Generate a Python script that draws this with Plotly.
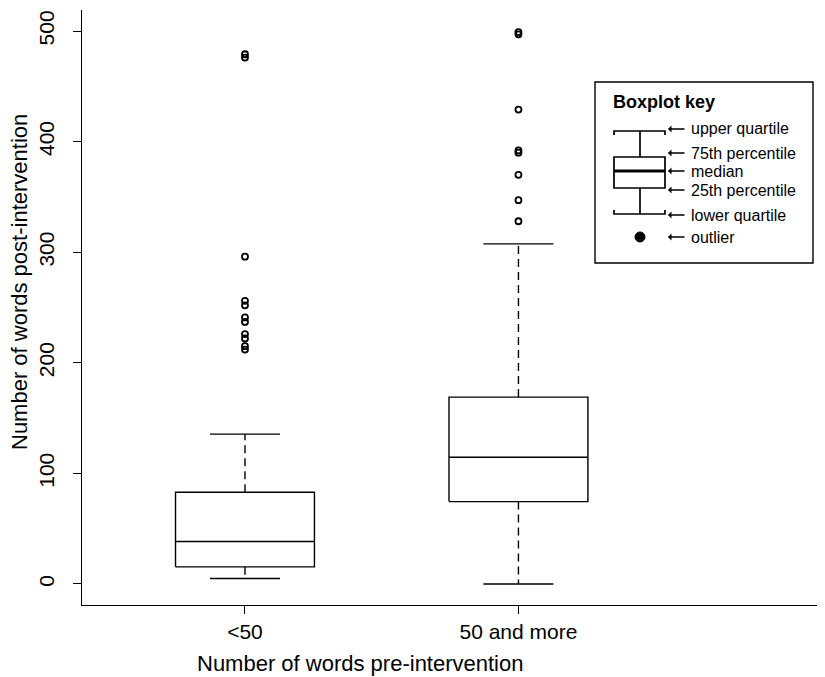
import plotly.graph_objects as go

# ---------------- data ----------------
categories = ["<50", "50 and more"]
q1 = [15.5, 74.5]
median = [38.5, 114.5]
q3 = [83.0, 169.0]
lower_whisker = [5.0, 0.0]
upper_whisker = [135.5, 307.5]
outliers_lt50 = [479, 476, 296, 256, 252, 241, 237, 226, 222, 215, 212]
outliers_50plus = [499, 497, 429, 392, 390, 370, 347, 328]
outliers = [outliers_lt50, outliers_50plus]

y_ticks = [0, 100, 200, 300, 400, 500]

x_title = "Number of words pre-intervention"
y_title = "Number of words post-intervention"
key_title = "Boxplot key"
key_labels = ["upper quartile", "75th percentile", "median",
              "25th percentile", "lower quartile", "outlier"]

FONT = "Liberation Sans, Arial, Helvetica, sans-serif"
BOX_HALF = 0.254
CAP_HALF = 0.128

fig = go.Figure()
line_style = dict(color="black", width=1.4)

for i, cat in enumerate(categories):
    c = i + 1
    fig.add_trace(go.Scatter(
        x=[c - BOX_HALF, c + BOX_HALF, c + BOX_HALF, c - BOX_HALF, c - BOX_HALF],
        y=[q1[i], q1[i], q3[i], q3[i], q1[i]],
        mode="lines", line=line_style, hoverinfo="skip", showlegend=False))
    fig.add_trace(go.Scatter(
        x=[c - BOX_HALF, c + BOX_HALF], y=[median[i], median[i]],
        mode="lines", line=dict(color="black", width=1.5), showlegend=False))
    fig.add_trace(go.Scatter(
        x=[c, c, None, c, c],
        y=[q3[i], upper_whisker[i], None, q1[i], lower_whisker[i]],
        mode="lines", line=dict(color="black", width=1.4, dash="8px,5px"),
        showlegend=False))
    fig.add_trace(go.Scatter(
        x=[c - CAP_HALF, c + CAP_HALF, None, c - CAP_HALF, c + CAP_HALF],
        y=[upper_whisker[i], upper_whisker[i], None, lower_whisker[i], lower_whisker[i]],
        mode="lines", line=line_style, showlegend=False))
    fig.add_trace(go.Scatter(
        x=[c] * len(outliers[i]), y=outliers[i], mode="markers",
        marker=dict(symbol="circle-open", size=6, color="black", line=dict(width=1.8)),
        showlegend=False))

# ---------------- layout ----------------
OFF = 8                      # page body margin
L, T, W, H = 74, 2, 743, 595  # plot area in figure px


def px(x):   # screenshot px -> paper
    return (x - OFF - L) / W


def py(y):
    return (T + H - (y - OFF)) / H


shapes = []
annotations = []

shapes.append(dict(type="rect", xref="paper", yref="paper",
                   x0=px(595), x1=px(813), y0=py(263), y1=py(82),
                   line=dict(color="black", width=1.4), fillcolor="white"))
kx0, kx1, kc = 614, 665, 640
ky_top, ky_q3, ky_med, ky_q1, ky_bot = 131, 157, 171, 188, 214
kline = dict(color="black", width=1.7)
shapes.append(dict(type="path", xref="paper", yref="paper",
                   path=f"M {px(kx0)} {py(ky_top+4)} L {px(kx0)} {py(ky_top)} L {px(kx1)} {py(ky_top)} L {px(kx1)} {py(ky_top+4)}",
                   line=kline))
shapes.append(dict(type="path", xref="paper", yref="paper",
                   path=f"M {px(kx0)} {py(ky_bot-4)} L {px(kx0)} {py(ky_bot)} L {px(kx1)} {py(ky_bot)} L {px(kx1)} {py(ky_bot-4)}",
                   line=kline))
shapes.append(dict(type="line", xref="paper", yref="paper",
                   x0=px(kc), x1=px(kc), y0=py(ky_top), y1=py(ky_q3), line=kline))
shapes.append(dict(type="line", xref="paper", yref="paper",
                   x0=px(kc), x1=px(kc), y0=py(ky_q1), y1=py(ky_bot), line=kline))
shapes.append(dict(type="rect", xref="paper", yref="paper",
                   x0=px(kx0), x1=px(kx1), y0=py(ky_q1), y1=py(ky_q3), line=kline))
shapes.append(dict(type="line", xref="paper", yref="paper",
                   x0=px(kx0), x1=px(kx1), y0=py(ky_med), y1=py(ky_med),
                   line=dict(color="black", width=3)))
shapes.append(dict(type="circle", xref="paper", yref="paper",
                   x0=px(kc - 5), x1=px(kc + 5), y0=py(237 + 5), y1=py(237 - 5),
                   fillcolor="black", line=dict(color="black", width=1)))

annotations.append(dict(xref="paper", yref="paper", x=px(611), y=py(102),
                        text=f"<b>{key_title}</b>", showarrow=False,
                        xanchor="left", yanchor="middle",
                        font=dict(family=FONT, size=18, color="black")))
key_y = [129, 153, 171, 190, 215, 237]
for txt, yy in zip(key_labels, key_y):
    # arrow pointing left
    annotations.append(dict(xref="paper", yref="paper", x=px(668), y=py(yy),
                            ax=18, ay=0, text="", showarrow=True,
                            arrowhead=1, arrowsize=0.9, arrowwidth=1.3,
                            arrowcolor="black", standoff=0, startstandoff=0))
    annotations.append(dict(xref="paper", yref="paper", x=px(689), y=py(yy),
                            text=txt, showarrow=False,
                            xanchor="left", yanchor="middle",
                            font=dict(family=FONT, size=16, color="black")))

# axis titles
annotations.append(dict(xref="paper", yref="paper", x=px(360), y=py(663),
                        text=x_title, showarrow=False, xanchor="center", yanchor="middle",
                        font=dict(family=FONT, size=22, color="black")))
annotations.append(dict(xref="paper", yref="paper", x=px(19), y=py(282),
                        text=y_title, showarrow=False, xanchor="center", yanchor="middle",
                        textangle=-90,
                        font=dict(family=FONT, size=22, color="black")))

fig.update_layout(
    width=825, height=677,
    margin=dict(l=L, r=825 - L - W, t=T, b=677 - T - H),
    plot_bgcolor="white", paper_bgcolor="white",
    font=dict(family=FONT, size=21, color="black"),
    shapes=shapes, annotations=annotations,
    showlegend=False,
)
fig.update_xaxes(
    range=[0.404, 3.121], tickmode="array", tickvals=[1, 2], ticktext=categories,
    showline=True, linecolor="black", linewidth=1.4, ticks="outside", ticklen=8,
    tickcolor="black", showgrid=False, zeroline=False,
    tickfont=dict(size=21),
)
fig.update_yaxes(
    range=[-19, 519], tickmode="array", tickvals=y_ticks,
    showline=True, linecolor="black", linewidth=1.4, ticks="outside", ticklen=8,
    tickcolor="black", showgrid=False, zeroline=False, tickangle=-90,
    tickfont=dict(size=21), ticklabelstandoff=10,
)

fig.write_html("out.html")
